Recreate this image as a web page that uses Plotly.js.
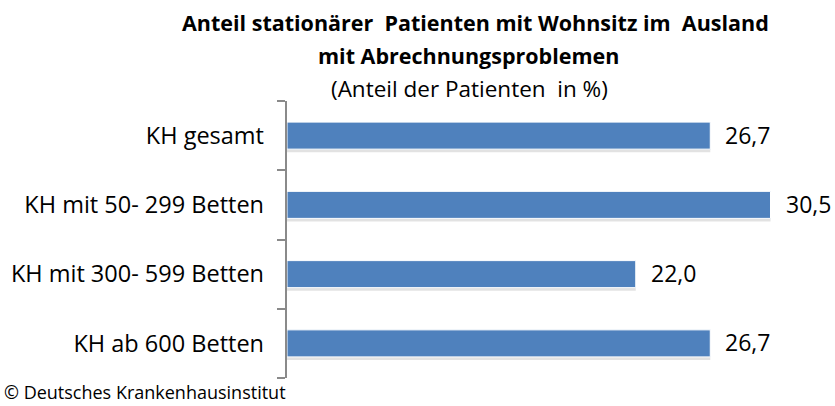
<!DOCTYPE html>
<html>
<head>
<meta charset="utf-8">
<script src="https://cdn.plot.ly/plotly-3.0.1.min.js"></script>
<style>html,body{margin:0;padding:0;background:#fff;}#chart{width:835px;height:406px;}</style>
</head>
<body>
<div id="chart"></div>
<script>
var categories = ["KH gesamt", "KH mit 50- 299 Betten", "KH mit 300- 599 Betten", "KH ab 600 Betten"];
var values = [26.7, 30.5, 22.0, 26.7];
var titleLines = ["Anteil stationärer  Patienten mit Wohnsitz im  Ausland", "mit Abrechnungsproblemen", "(Anteil der Patienten  in %)"];
var footer = "© Deutsches Krankenhausinstitut";

var FONT = "'Open Sans', Lato, sans-serif";
var W = 0.39;

var shadow = {
  type: 'bar', orientation: 'h', y: categories, x: values,
  width: W, offset: -W/2 + 0.045,
  marker: {color: 'rgba(160,160,160,0.3)', line: {width: 0}},
  hoverinfo: 'skip', showlegend: false
};
var bars = {
  type: 'bar', orientation: 'h', y: categories, x: values,
  width: W, offset: -W/2,
  marker: {color: '#4F81BD', line: {color: '#ffffff', width: 1}},
  showlegend: false
};
// invisible helper trace to activate the bracket axis
var axisHelper = {
  type: 'scatter', mode: 'none', x: [0, 0], y: [-0.5, categories.length - 0.5],
  yaxis: 'y2', hoverinfo: 'skip', showlegend: false
};

var annotations = values.map(function(v, i){
  return {x: v, y: categories[i], xref: 'x', yref: 'y', text: v.toFixed(1).replace('.', ','),
    showarrow: false, xanchor: 'left', yanchor: 'middle', xshift: 13, yshift: 1,
    font: {family: FONT, size: 23, color: '#000'}};
});
annotations.push({xref: 'paper', yref: 'paper', x: (475-287)/539, y: 1, yshift: 100.7-22, text: '<b>' + titleLines[0] + '</b>', showarrow: false, xanchor: 'center', yanchor: 'middle', font: {family: FONT, size: 21.5, color: '#000'}});
annotations.push({xref: 'paper', yref: 'paper', x: (468-287)/539, y: 1, yshift: 100.7-55, text: '<b>' + titleLines[1] + '</b>', showarrow: false, xanchor: 'center', yanchor: 'middle', font: {family: FONT, size: 21.5, color: '#000'}});
annotations.push({xref: 'paper', yref: 'paper', x: (469-287)/539, y: 1, yshift: 100.7-88, text: titleLines[2], showarrow: false, xanchor: 'center', yanchor: 'middle', font: {family: FONT, size: 22.5, color: '#000'}});
annotations.push({xref: 'paper', yref: 'paper', x: 0, xshift: -287+2, y: 0, yshift: -14, text: footer, showarrow: false, xanchor: 'left', yanchor: 'middle', font: {family: FONT, size: 18, color: '#000'}});

var layout = {
  width: 835, height: 406,
  margin: {l: 287, r: 9, t: 101, b: 28},
  paper_bgcolor: '#fff', plot_bgcolor: '#fff',
  barmode: 'overlay',
  xaxis: {range: [0, 34], visible: false, fixedrange: true},
  yaxis: {autorange: 'reversed', ticks: '', showline: false, showgrid: false, zeroline: false,
    tickfont: {family: FONT, size: 23.5, color: '#000'}, ticklabelstandoff: 22},
  yaxis2: {overlaying: 'y', side: 'left', type: 'linear', range: [categories.length - 0.5, -0.5],
    tick0: -0.5, dtick: 1, ticks: 'outside', ticklen: 8, tickwidth: 2, tickcolor: '#8a8a8a',
    showticklabels: false, showline: true, linecolor: '#8a8a8a', linewidth: 2,
    showgrid: false, zeroline: false},
  annotations: annotations,
  font: {family: FONT}
};
Plotly.newPlot('chart', [shadow, bars, axisHelper], layout, {staticPlot: true});
</script>
</body>
</html>
